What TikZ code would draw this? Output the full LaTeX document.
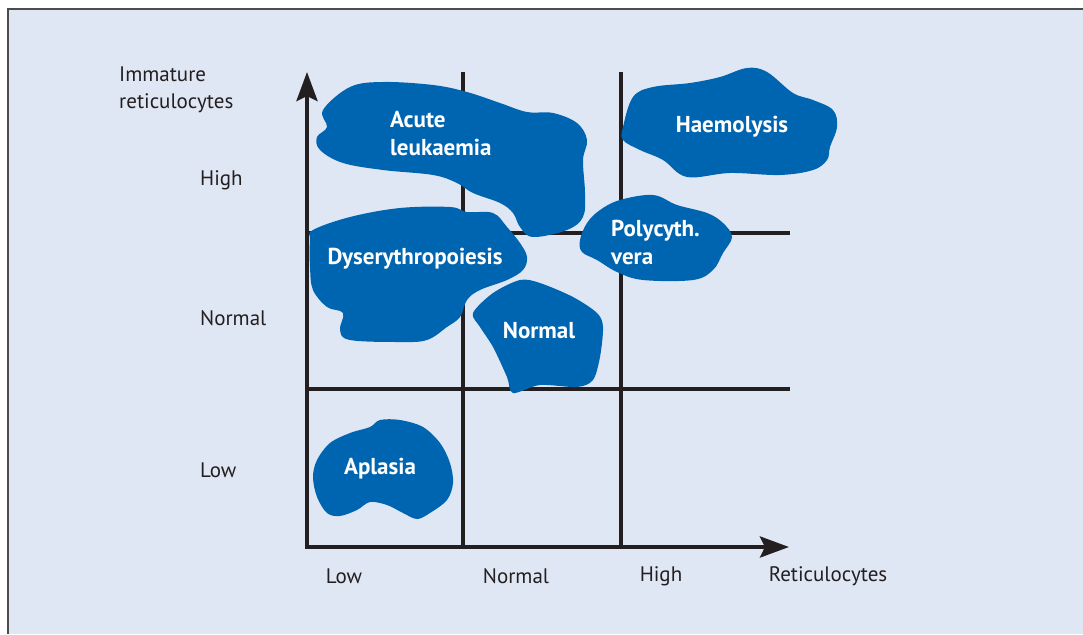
\documentclass[tikz,border=0pt]{standalone}
\usepackage{fontspec}
\setmainfont{PT Sans}
\usetikzlibrary{arrows.meta}
\definecolor{panelbg}{RGB}{224,231,244}
\definecolor{inkdark}{RGB}{35,31,32}
\definecolor{blobblue}{RGB}{0,101,176}
\tikzset{
  axislabel/.style={font=\fontsize{21}{27}\selectfont, text=inkdark, inner sep=0pt},
  blobtext/.style={font=\bfseries\fontsize{23}{28}\selectfont, text=white, inner sep=0pt, align=left},
  blob/.style={fill=blobblue, draw=none},
  gridline/.style={draw=inkdark, line width=4pt},
  axisline/.style={draw=inkdark, line width=4pt, line join=miter, {Stealth[length=29pt,width=21pt,inset=5pt]}-{Stealth[length=29pt,width=21pt,inset=5pt]}}
}
\begin{document}
\begin{tikzpicture}[x=1pt,y=-1pt]
\useasboundingbox (0,0) rectangle (1083,634);
\fill[white] (0,0) rectangle (1083,634);
\fill[panelbg] (8,9) rectangle (1083,634);
\path[draw=black!70,line width=1.5pt] (8,634) -- (8,9) -- (1083,9);

\coordinate (origin) at (307,547);
\coordinate (ytip) at (307,72);
\coordinate (xtip) at (789,547);
\coordinate (v1top) at (463,72);
\coordinate (v1bot) at (463,547);
\coordinate (v2top) at (621,72);
\coordinate (v2bot) at (621,547);
\coordinate (h1left) at (307,233);
\coordinate (h1right) at (790,233);
\coordinate (h2left) at (307,389);
\coordinate (h2right) at (790,389);

\path[gridline] (v1top) -- (v1bot);
\path[gridline] (v2top) -- (v2bot);
\path[gridline] (h1left) -- (h1right);
\path[gridline] (h2left) -- (h2right);
\path[axisline] (ytip) -- (origin) -- (xtip);

\fill[blob] plot[smooth cycle,tension=0.6] coordinates {(323,110) (350,87) (383,82) (433,85) (467,92) (500,103) (527,112) (553,113) (577,123) (587,140) (583,160) (585,193) (583,217) (567,230) (533,237) (520,227) (513,213) (500,203) (473,193) (457,183) (433,175) (383,170) (343,163) (320,150) (317,137) (327,127)};
\fill[blob] plot[smooth cycle,tension=0.6] coordinates {(313,230) (350,217) (400,208) (450,207) (467,212) (493,213) (507,227) (520,243) (527,257) (523,270) (507,280) (480,290) (467,300) (460,317) (447,327) (427,340) (400,342) (350,340) (340,330) (343,313) (327,307) (313,290) (310,267) (310,240)};
\fill[blob] plot[smooth cycle,tension=0.5] coordinates {(473,313) (493,293) (520,280) (540,283) (573,297) (597,313) (603,327) (600,357) (593,380) (577,387) (540,385) (513,393) (507,377) (493,347) (480,327)};
\fill[blob] plot[smooth cycle,tension=0.6] coordinates {(580,240) (587,223) (600,210) (620,200) (653,195) (677,205) (707,213) (723,223) (732,237) (723,253) (713,270) (693,280) (643,280) (617,272) (597,260) (582,252)};
\fill[blob] plot[smooth cycle,tension=0.6] coordinates {(623,127) (633,97) (653,87) (690,83) (720,77) (747,68) (767,72) (793,93) (813,100) (833,110) (837,127) (830,147) (827,160) (813,170) (780,175) (730,173) (687,177) (663,160) (640,150) (623,140)};
\fill[blob] plot[smooth cycle,tension=0.55] coordinates {(317,460) (330,443) (350,433) (370,427) (380,420) (400,420) (423,427) (440,443) (450,463) (453,483) (447,500) (430,513) (417,519) (403,513) (387,505) (370,502) (357,510) (340,516) (327,513) (317,497) (313,477)};

\node[blobtext,anchor=west] (leuk) at (390,134) {Acute\\leukaemia};
\node[blobtext] (dys) at (415,259) {Dyserythropoiesis};
\node[blobtext] (normblob) at (539,331) {Normal};
\node[blobtext,anchor=west] (poly) at (611,242) {Polycyth.\\vera};
\node[blobtext] (haem) at (732,127) {Haemolysis};
\node[blobtext] (aplasia) at (380,469) {Aplasia};

\node[axislabel,anchor=west,align=left] (ylabel) at (119,90) {Immature\\reticulocytes};
\node[axislabel,anchor=west] (yhigh) at (200,180) {High};
\node[axislabel,anchor=west] (ynormal) at (200,318) {Normal};
\node[axislabel,anchor=west] (ylow) at (200,470) {Low};
\node[axislabel] (xlow) at (344,576) {Low};
\node[axislabel] (xnormal) at (516,576) {Normal};
\node[axislabel] (xhigh) at (661,576) {High};
\node[axislabel] (xlabel) at (828,576) {Reticulocytes};
\end{tikzpicture}
\end{document}
